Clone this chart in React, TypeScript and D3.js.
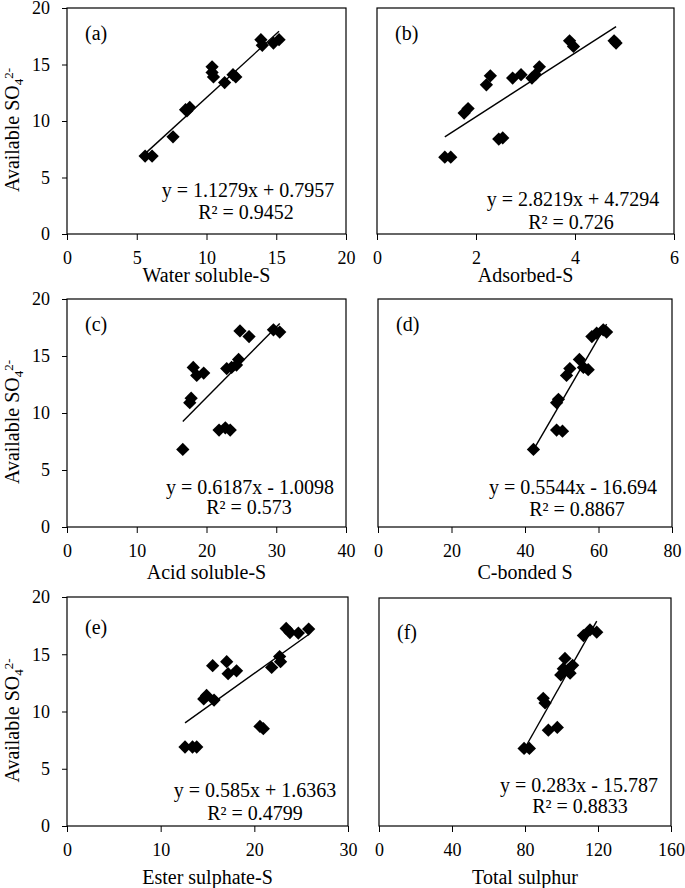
import React, { useEffect, useRef } from 'react';
import * as d3 from 'd3';

// ---- data ----
const panelLabels = ['(a)', '(b)', '(c)', '(d)', '(e)', '(f)'];
const xTitles = ['Water soluble-S', 'Adsorbed-S', 'Acid soluble-S', 'C-bonded S', 'Ester sulphate-S', 'Total sulphur'];
const xMaxes = [20, 6, 40, 80, 30, 160];
const xSteps = [5, 2, 10, 20, 10, 40];
const yTicks = [0, 5, 10, 15, 20];

const slopes = [1.1279, 2.8219, 0.6187, 0.5544, 0.585, 0.283];
const intercepts = [0.7957, 4.7294, -1.0098, -16.694, 1.6363, -15.787];
const equations = [
  'y = 1.1279x + 0.7957',
  'y = 2.8219x + 4.7294',
  'y = 0.6187x - 1.0098',
  'y = 0.5544x - 16.694',
  'y = 0.585x + 1.6363',
  'y = 0.283x - 15.787',
];
const r2Labels = ['R² = 0.9452', 'R² = 0.726', 'R² = 0.573', 'R² = 0.8867', 'R² = 0.4799', 'R² = 0.8833'];

const waterSolubleX = [5.6, 6.1, 7.6, 8.5, 8.8, 8.6, 10.4, 10.4, 10.5, 11.3, 11.9, 12.1, 13.9, 14.0, 14.8, 15.2];
const waterSolubleY = [6.9, 6.9, 8.6, 11.0, 11.2, 10.9, 14.8, 14.3, 13.9, 13.4, 14.1, 13.9, 17.2, 16.7, 16.9, 17.2];

const adsorbedX = [1.37, 1.49, 1.76, 1.84, 2.21, 2.29, 2.46, 2.54, 2.74, 2.91, 3.13, 3.2, 3.28, 3.89, 3.97, 4.79, 4.83];
const adsorbedY = [6.8, 6.8, 10.7, 11.1, 13.2, 14.0, 8.4, 8.5, 13.8, 14.1, 13.8, 14.1, 14.8, 17.1, 16.6, 17.1, 16.9];

const acidSolubleX = [16.6, 17.6, 17.8, 18.1, 18.6, 19.6, 21.8, 22.7, 23.4, 22.9, 23.6, 24.3, 24.6, 24.8, 26.1, 29.6, 30.5];
const acidSolubleY = [6.8, 10.9, 11.3, 14.0, 13.3, 13.5, 8.5, 8.7, 8.5, 13.9, 14.0, 14.2, 14.7, 17.2, 16.7, 17.3, 17.1];

const cBondedX = [42.3, 48.6, 50.2, 48.6, 49.1, 51.3, 52.2, 54.8, 55.9, 57.2, 58.2, 59.5, 61.3, 62.2];
const cBondedY = [6.8, 8.5, 8.4, 10.9, 11.2, 13.3, 13.9, 14.7, 14.0, 13.8, 16.7, 17.0, 17.3, 17.1];

const esterX = [12.6, 13.4, 13.85, 14.6, 14.9, 15.7, 15.55, 17.05, 17.2, 18.1, 20.6, 20.96, 21.85, 22.7, 22.8, 23.4, 23.8, 24.7, 25.8];
const esterY = [6.9, 6.9, 6.9, 11.1, 11.4, 11.0, 14.0, 14.35, 13.3, 13.55, 8.7, 8.5, 13.85, 14.8, 14.35, 17.25, 16.9, 16.85, 17.2];

const totalX = [79.5, 82.4, 92.8, 97.7, 90.0, 91.0, 99.6, 101.0, 101.9, 103.7, 106.1, 104.7, 112, 115.6, 119.3];
const totalY = [6.8, 6.8, 8.4, 8.65, 11.2, 10.8, 13.25, 13.8, 14.7, 13.7, 14.1, 13.4, 16.7, 17.2, 17.0];

const seriesX = [waterSolubleX, adsorbedX, acidSolubleX, cBondedX, esterX, totalX];
const seriesY = [waterSolubleY, adsorbedY, acidSolubleY, cBondedY, esterY, totalY];

// ---- layout (pixels) ----
const frames = [
  { l: 67, r: 346, t: 8, b: 234, labelDy: 32, eqX: 248, eqY: 197, r2X: 246, r2Y: 219, titleY: 282 },
  { l: 377, r: 674, t: 8, b: 234, labelDy: 32, eqX: 573, eqY: 206, r2X: 571, r2Y: 229, titleY: 282 },
  { l: 67, r: 346, t: 299, b: 527, labelDy: 32, eqX: 250, eqY: 494, r2X: 249, r2Y: 514, titleY: 579 },
  { l: 378, r: 672, t: 299, b: 527, labelDy: 32, eqX: 573, eqY: 494, r2X: 577, r2Y: 516, titleY: 579 },
  { l: 67, r: 348, t: 597, b: 826, labelDy: 37, eqX: 255, eqY: 797, r2X: 255, r2Y: 820, titleY: 884 },
  { l: 379, r: 671, t: 598, b: 826, labelDy: 41, eqX: 579, eqY: 792, r2X: 580, r2Y: 813, titleY: 884 },
];

const FONT = '"Liberation Serif", "Times New Roman", serif';

const App: React.FC = () => {
  const ref = useRef<SVGSVGElement>(null);

  useEffect(() => {
    const svg = d3.select(ref.current);
    svg.selectAll('*').remove();

    const marker = d3.symbol().type(d3.symbolSquare).size(88);

    frames.forEach((f, i) => {
      const x = d3.scaleLinear().domain([0, xMaxes[i]]).range([f.l, f.r]);
      const y = d3.scaleLinear().domain([0, 20]).range([f.b, f.t]);
      const g = svg.append('g');
      const leftCol = i % 2 === 0;

      // bottom axis
      const xAxis = d3.axisBottom(x)
        .tickValues(d3.range(0, xMaxes[i] + xSteps[i] / 2, xSteps[i]))
        .tickFormat(d3.format('d'))
        .tickSize(6)
        .tickSizeOuter(0)
        .tickPadding(11);
      const xg = g.append('g').attr('transform', `translate(0,${f.b})`).call(xAxis);
      xg.select('.domain').remove();
      xg.selectAll('line').attr('stroke', '#000');
      xg.selectAll('text').attr('font-family', FONT).attr('font-size', 18).attr('fill', '#000');

      if (leftCol) {
        const yAxis = d3.axisLeft(y).tickValues(yTicks).tickSize(5).tickSizeOuter(0).tickPadding(12);
        const yg = g.append('g').attr('transform', `translate(${f.l},0)`).call(yAxis);
        yg.select('.domain').remove();
        yg.selectAll('line').attr('stroke', '#000');
        yg.selectAll('text').attr('font-family', FONT).attr('font-size', 18).attr('fill', '#000');

        const yt = g.append('text')
          .attr('transform', `translate(19,${(f.t + f.b) / 2 + 9}) rotate(-90)`)
          .attr('text-anchor', 'middle')
          .attr('font-family', FONT)
          .attr('font-size', 20)
          .attr('fill', '#000');
        yt.append('tspan').text('Available SO');
        yt.append('tspan').attr('font-size', 13).attr('dy', 4).text('4');
        yt.append('tspan').attr('font-size', 13).attr('dy', -10).text('2-');
      }

      // frame
      g.append('rect')
        .attr('x', f.l).attr('y', f.t)
        .attr('width', f.r - f.l).attr('height', f.b - f.t)
        .attr('fill', 'none').attr('stroke', '#000').attr('stroke-width', 1.2);

      // trendline
      const xs = seriesX[i];
      const ext = d3.extent(xs) as [number, number];
      const line = d3.line<number>().x(d => x(d)).y(d => y(slopes[i] * d + intercepts[i]));
      g.append('path')
        .attr('d', line(ext))
        .attr('stroke', '#000').attr('stroke-width', 1.4).attr('fill', 'none');

      // points
      g.selectAll('.pt')
        .data(xs.map((v, k) => [v, seriesY[i][k]]))
        .enter().append('path')
        .attr('class', 'pt')
        .attr('d', marker()!)
        .attr('transform', d => `translate(${x(d[0])},${y(d[1])}) rotate(45)`)
        .attr('fill', '#000');

      // texts
      g.append('text')
        .attr('x', f.l + 18).attr('y', f.t + f.labelDy)
        .attr('font-family', FONT).attr('font-size', 20).attr('fill', '#000')
        .text(panelLabels[i]);

      g.append('text')
        .attr('x', f.eqX).attr('y', f.eqY)
        .attr('text-anchor', 'middle')
        .attr('font-family', FONT).attr('font-size', 20).attr('fill', '#000')
        .text(equations[i]);
      g.append('text')
        .attr('x', f.r2X).attr('y', f.r2Y)
        .attr('text-anchor', 'middle')
        .attr('font-family', FONT).attr('font-size', 20).attr('fill', '#000')
        .text(r2Labels[i]);

      g.append('text')
        .attr('x', (f.l + f.r) / 2).attr('y', f.titleY)
        .attr('text-anchor', 'middle')
        .attr('font-family', FONT).attr('font-size', 20).attr('fill', '#000')
        .text(xTitles[i]);
    });
  }, []);

  return (
    <div style={{ position: 'absolute', left: 0, top: 0 }}>
      <svg ref={ref} width={685} height={888} style={{ display: 'block', background: '#fff' }}></svg>
    </div>
  );
};

export default App;
